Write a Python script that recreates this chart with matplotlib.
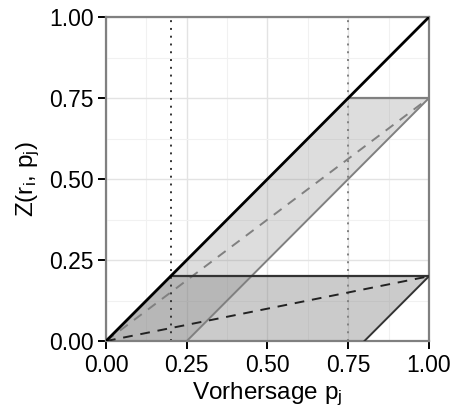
import numpy as np
import matplotlib
matplotlib.use('Agg')
import matplotlib.pyplot as plt
from matplotlib.ticker import MultipleLocator

plt.rcParams['font.family'] = ['Liberation Sans', 'DejaVu Sans']
plt.rcParams['mathtext.fontset'] = 'custom'
plt.rcParams['mathtext.rm'] = 'Liberation Sans'
plt.rcParams['mathtext.it'] = 'Liberation Sans'

# observed relative frequencies r_i for the two cases
r_values = [0.75, 0.2]
fill_alpha = [0.26, 0.4]
edge_colors = ['#808080', '#333333']
dash_colors = ['#808080', '#222222']
vline_colors = ['#808080', '#333333']
ticks = [0.0, 0.25, 0.5, 0.75, 1.0]
tick_labels = ['0.00', '0.25', '0.50', '0.75', '1.00']

fig = plt.figure(figsize=(4.52, 4.07), dpi=100)
ax = fig.add_axes([0.2345, 0.162, 0.7145, 0.796])

ax.set_xlim(0, 1)
ax.set_ylim(0, 1)
ax.xaxis.set_minor_locator(MultipleLocator(0.125))
ax.yaxis.set_minor_locator(MultipleLocator(0.125))
ax.grid(which='major', color='#e3e3e3', lw=1.0, zorder=0)
ax.grid(which='minor', color='#f1f1f1', lw=0.8, zorder=0)
ax.set_axisbelow(True)

for r, a, ec, dc in zip(r_values, fill_alpha, edge_colors, dash_colors):
    px = [0, r, 1, 1 - r]
    py = [0, r, r, 0]
    ax.fill(px, py, color='#7f7f7f', alpha=a, lw=0, zorder=1)
    ax.plot([r, 1], [r, r], color=ec, lw=1.6, zorder=3)
    ax.plot([1 - r, 1], [0, r], color=ec, lw=1.4, zorder=3)
    ax.plot([0, 1], [0, r], color=dc, lw=1.4, ls=(0, (5, 4)), zorder=3)

for r, vc in zip(r_values, vline_colors):
    ax.axvline(r, color=vc, lw=1.4, ls=(0, (1, 3)), zorder=2)
ax.axvline(1.0, color='#808080', lw=1.4, ls=(0, (1, 3)), zorder=2)

ax.plot([0, 1], [0, 1], color='black', lw=2.0, zorder=4)

for s in ax.spines.values():
    s.set_color('#808080')
    s.set_linewidth(1.6)

ax.set_xticks(ticks)
ax.set_xticklabels(tick_labels)
ax.set_yticks(ticks)
ax.set_yticklabels(tick_labels)
ax.tick_params(which='major', length=6, width=1.4, color='black', labelsize=16.5,
               labelcolor='black', pad=3)
ax.tick_params(which='minor', length=0)

ax.set_xlabel(r'Vorhersage p$_\mathregular{j}$', fontsize=17.5, labelpad=3)
ax.set_ylabel(r'Z(r$_\mathregular{i}$, p$_\mathregular{j}$)', fontsize=17.5, labelpad=5)

fig.savefig('out.png', dpi=100)
